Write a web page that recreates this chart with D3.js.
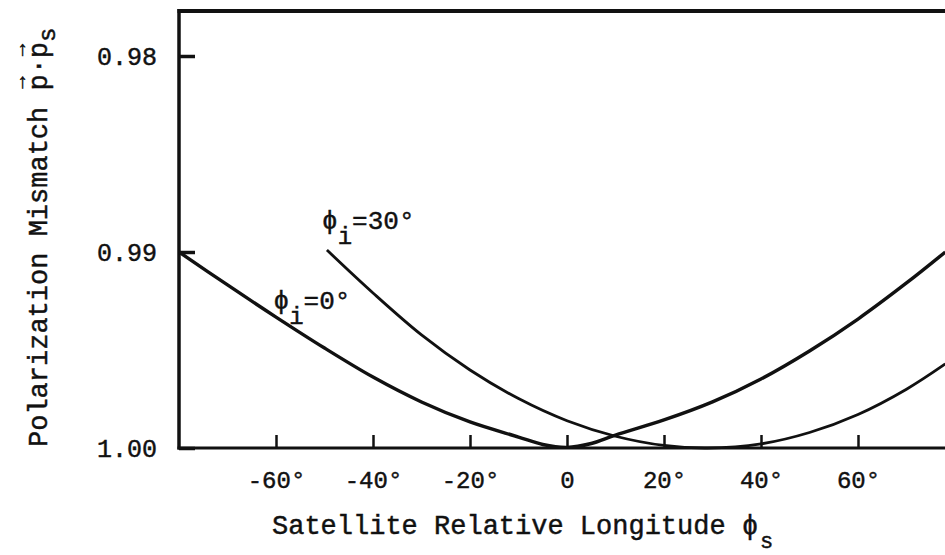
<!DOCTYPE html>
<html>
<head>
<meta charset="utf-8">
<script src="https://cdn.jsdelivr.net/npm/d3@7"></script>
<style>
  html, body { margin: 0; padding: 0; background: #fff; }
  svg { display: block; }
  text { font-family: "Liberation Mono", "DejaVu Sans Mono", monospace; fill: #111; stroke: #111; stroke-width: 0.45; }
</style>
</head>
<body>
<svg id="chart" width="945" height="555"></svg>
<script>
// ---- data ----
const xTicks = [-60, -40, -20, 0, 20, 40, 60];
const yTicks = [0.98, 0.99, 1.00];

const lonPhi0 = [-80, -70, -60, -50, -40, -30, -20, -10, -5, 0, 5, 10, 20, 30, 40, 50, 60, 70, 78];
const mismatchPhi0 = [0.99000, 0.99168, 0.99332, 0.99490, 0.99638, 0.99765, 0.99867, 0.99944, 0.99982,
                      0.99997, 0.99977, 0.99934, 0.99857, 0.99765, 0.99648, 0.99505, 0.99342, 0.99158, 0.99000];

const lonPhi30 = [-49.5, -40, -30, -20, -10, 0, 10, 20, 29, 40, 50, 60, 70, 78];
const mismatchPhi30 = [0.98990, 0.99209, 0.99423, 0.99602, 0.99748, 0.99861, 0.99940, 0.99987, 1.00000,
                       0.99979, 0.99921, 0.99829, 0.99700, 0.99571];

const seriesLabels = [
  { name: "0°", lon: -60.5, val: 0.99290 },
  { name: "30°", lon: -50.5, val: 0.98885 }
];

// ---- layout ----
(function () {
const svg = d3.select("#chart");
const W = 945, H = 555;
const frameLeft = 179, frameBottom = 448, frameTop = 11;

const x = d3.scaleLinear().domain([-80, 80]).range([179, 955]);
const y = d3.scaleLinear().domain([0.98, 1.00]).range([56, 448]);

svg.append("rect").attr("width", W).attr("height", H).attr("fill", "#fff");

// frame
svg.append("line").attr("x1", frameLeft).attr("x2", frameLeft).attr("y1", frameTop - 2).attr("y2", frameBottom + 1.5)
  .attr("stroke", "#111").attr("stroke-width", 3.5);
svg.append("line").attr("x1", frameLeft - 1.5).attr("x2", W).attr("y1", frameTop).attr("y2", frameTop)
  .attr("stroke", "#111").attr("stroke-width", 4);
svg.append("line").attr("x1", frameLeft - 1.5).attr("x2", W).attr("y1", frameBottom).attr("y2", frameBottom)
  .attr("stroke", "#111").attr("stroke-width", 3);

// y axis
const yAxis = d3.axisLeft(y).tickValues(yTicks).tickFormat(d3.format(".2f"))
  .tickSizeInner(-16).tickSizeOuter(0).tickPadding(22);
const gy = svg.append("g").attr("transform", `translate(${frameLeft},0)`).call(yAxis);
gy.select(".domain").remove();
gy.selectAll(".tick line").attr("stroke", "#111").attr("stroke-width", 3.5);
gy.selectAll(".tick text").attr("font-size", 25).attr("fill", "#111")
  .style("font-family", "'Liberation Mono', monospace");

// x axis
const xAxis = d3.axisBottom(x).tickValues(xTicks)
  .tickFormat(d => d === 0 ? "0" : (d < 0 ? "-" + Math.abs(d) : d) + "°")
  .tickSizeInner(-13).tickSizeOuter(0).tickPadding(23);
const gx = svg.append("g").attr("transform", `translate(0,${frameBottom})`).call(xAxis);
gx.select(".domain").remove();
gx.selectAll(".tick line").attr("stroke", "#111").attr("stroke-width", 2.5);
gx.selectAll(".tick text").attr("font-size", 24).attr("fill", "#111")
  .style("font-family", "'Liberation Mono', monospace");

// curves
const line = d3.line().x(d => x(d[0])).y(d => y(d[1])).curve(d3.curveCatmullRom.alpha(0.5));
svg.append("path").datum(lonPhi0.map((l, i) => [l, mismatchPhi0[i]]))
  .attr("d", line).attr("fill", "none").attr("stroke", "#111").attr("stroke-width", 3.4)
  .attr("stroke-linejoin", "round");
svg.append("path").datum(lonPhi30.map((l, i) => [l, mismatchPhi30[i]]))
  .attr("d", line).attr("fill", "none").attr("stroke", "#111").attr("stroke-width", 2.8)
  .attr("stroke-linejoin", "round");

// curve labels: ϕi = ...
seriesLabels.forEach(s => {
  const t = svg.append("text").attr("x", x(s.lon)).attr("y", y(s.val)).attr("font-size", 26);
  t.append("tspan").text("ϕ");
  t.append("tspan").attr("dy", 15).attr("font-size", 24).text("i");
  t.append("tspan").attr("dy", -15).text("=" + s.name);
});

// x axis title
const xt = svg.append("text").attr("x", 272).attr("y", 534).attr("font-size", 27);
xt.append("tspan").text("Satellite Relative Longitude ϕ");
xt.append("tspan").attr("dy", 14).attr("dx", 2).attr("font-size", 22).text("s");

// y axis title (rotated)
const gyt = svg.append("g").attr("transform", "translate(47,447) rotate(-90)");
const ytt = gyt.append("text").attr("x", 0).attr("y", 0).attr("font-size", 27);
ytt.append("tspan").text("Polarization Mismatch p·p");
ytt.append("tspan").attr("dy", 8).attr("font-size", 24).text("s");
const cw = 27 * 0.6;
[22, 24].forEach(i => {
  gyt.append("text").attr("x", cw * i + cw / 2).attr("y", -21)
    .attr("text-anchor", "middle").attr("font-size", 20).text("→");
});
})();
</script>
</body>
</html>
